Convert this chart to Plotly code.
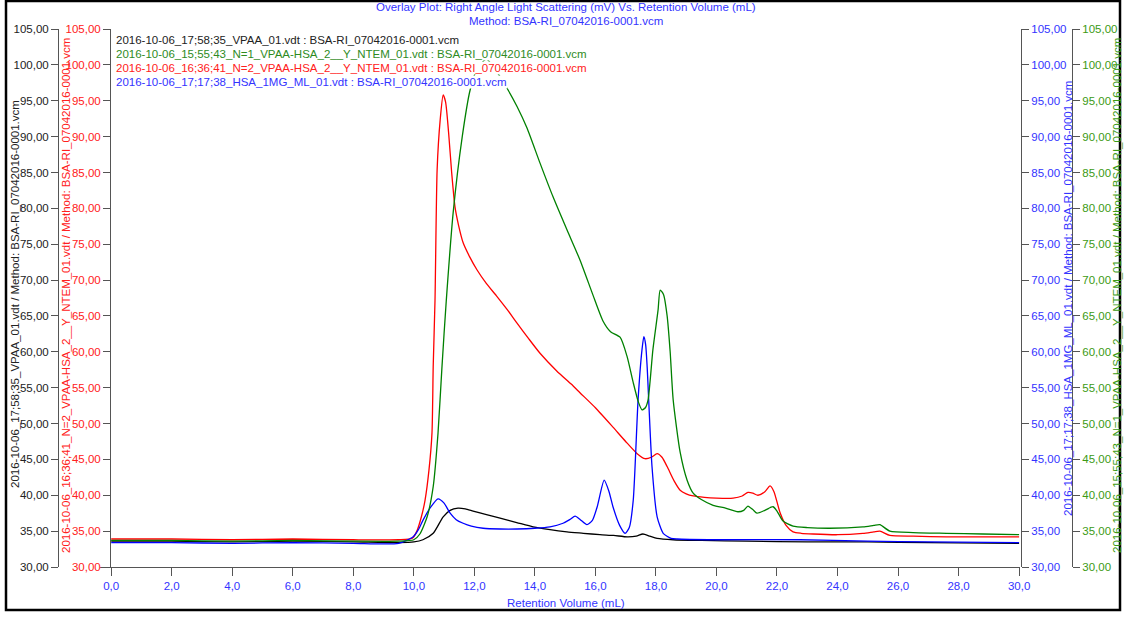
import plotly.graph_objects as go

W, H = 1125, 617

# ---- data: right angle light scattering (mV) vs retention volume (mL) ----
vpaa_x = [0, 2, 4, 6, 8, 9.5, 10.0, 10.3, 10.64, 10.97, 11.2, 11.46, 11.7, 11.96, 12.4, 12.85,
          13.4, 13.94, 14.5, 15.06, 15.6, 16.15, 16.6, 17.05, 17.35, 17.57, 17.8, 18.04, 18.57,
          19.5, 21, 23, 25, 27, 30]
vpaa_y = [33.6, 33.6, 33.5, 33.6, 33.5, 33.4, 33.5, 33.8, 34.7, 37.0, 37.9, 38.2, 38.1, 37.8,
          37.3, 36.8, 36.2, 35.6, 35.2, 34.9, 34.7, 34.5, 34.4, 34.2, 34.3, 34.6, 34.3, 34.0,
          33.8, 33.7, 33.6, 33.5, 33.5, 33.4, 33.3]

n2_x = [0, 2, 4, 6, 8, 9.5, 9.95, 10.1, 10.25, 10.37, 10.5, 10.6, 10.64, 10.7, 10.77, 10.87,
        10.97, 11.05, 11.15, 11.25, 11.36, 11.48, 11.63, 11.85, 12.09, 12.4, 12.75, 13.1, 13.41,
        13.8, 14.17, 14.73, 15.2, 15.49, 16.0, 16.58, 17.0, 17.38, 17.64, 17.85, 18.04, 18.2,
        18.37, 18.6, 18.8, 19.0, 19.23, 19.6, 20.0, 20.55, 20.85, 21.04, 21.2, 21.37, 21.6,
        21.77, 21.9, 22.1, 22.3, 22.53, 22.8, 23.19, 24.0, 24.84, 25.2, 25.4, 25.73, 26.5,
        27.6, 28.8, 30]
n2_y = [33.9, 33.9, 33.8, 33.9, 33.8, 33.8, 34.0, 35.0, 37.0, 39.3, 43.5, 48.7, 57.9, 67.2,
        85.4, 92.3, 95.8, 94.8, 90.5, 85.0, 80.2, 77.6, 75.2, 73.2, 71.4, 69.5, 67.7, 65.8, 64.0,
        61.8, 59.8, 57.3, 55.5, 54.3, 52.2, 49.5, 47.5, 45.8, 45.1, 45.3, 45.8, 45.3, 44.0, 42.0,
        40.7, 40.2, 39.9, 39.7, 39.6, 39.6, 39.9, 40.4, 40.3, 40.0, 40.5, 41.3, 40.5, 37.6, 35.8,
        34.9, 34.7, 34.6, 34.5, 34.7, 34.9, 35.0, 34.4, 34.3, 34.2, 34.2, 34.2]

n1_x = [0, 2, 4, 6, 8, 9.5, 10.0, 10.2, 10.44, 10.64, 10.8, 10.93, 11.07, 11.3, 11.6, 11.86,
        12.1, 12.4, 12.75, 13.1, 13.41, 13.74, 14.17, 14.6, 15.06, 15.49, 15.92, 16.25, 16.5,
        16.82, 17.05, 17.25, 17.42, 17.54, 17.65, 17.74, 17.9, 18.07, 18.14, 18.25, 18.37,
        18.47, 18.57, 18.8, 19.03, 19.23, 19.5, 19.89, 20.3, 20.71, 20.9, 21.04, 21.2, 21.34,
        21.6, 21.87, 22.0, 22.2, 22.53, 23.0, 23.75, 24.84, 25.2, 25.4, 25.73, 26.5, 27.6,
        28.8, 30]
n1_y = [33.7, 33.7, 33.6, 33.7, 33.6, 33.6, 33.8, 34.6, 37.0, 41.2, 48.7, 57.9, 67.0, 79.4,
        90.0, 96.5, 99.5, 100.8, 99.0, 96.6, 94.2, 91.2, 86.3, 81.6, 77.0, 72.8, 67.9, 64.3,
        62.8, 62.0, 59.3, 55.7, 53.0, 51.9, 52.2, 53.3, 60.3, 65.8, 68.6, 68.0, 65.0, 60.0,
        53.3, 46.0, 42.1, 40.3, 39.4, 38.6, 38.2, 37.7, 37.9, 38.5, 38.0, 37.5, 37.9, 38.4,
        37.8, 36.4, 35.7, 35.5, 35.4, 35.6, 35.8, 35.9, 35.0, 34.8, 34.7, 34.6, 34.5]

hsa_x = [0, 2, 4, 6, 8, 9.5, 9.98, 10.15, 10.3, 10.55, 10.8, 11.0, 11.2, 11.4, 11.63, 11.9,
         12.29, 12.85, 13.41, 14.0, 14.5, 14.93, 15.15, 15.33, 15.5, 15.72, 15.9, 16.06, 16.29,
         16.45, 16.58, 16.8, 16.98, 17.12, 17.25, 17.41, 17.54, 17.6, 17.66, 17.71, 17.87,
         18.04, 18.24, 18.5, 18.7, 20, 22.76, 25, 27, 30]
hsa_y = [33.4, 33.4, 33.3, 33.4, 33.3, 33.3, 34.2, 35.2, 36.5, 38.3, 39.5, 38.9, 37.5, 36.6,
         36.1, 35.7, 35.4, 35.3, 35.3, 35.4, 35.6, 36.1, 36.6, 37.1, 36.6, 35.9, 36.5, 38.4,
         42.1, 40.5, 38.4, 35.8, 34.7, 35.5, 39.3, 53.3, 60.3, 62.1, 61.0, 57.9, 44.0, 37.0,
         34.7, 34.0, 33.9, 33.8, 33.8, 33.6, 33.5, 33.4]

method = "BSA-RI_07042016-0001.vcm"
runs = [
    # (run file, x, y, line colour, text colour, axis)
    ("2016-10-06_17;58;35_VPAA_01.vdt", vpaa_x, vpaa_y, "#000000", "#222222", "y"),
    ("2016-10-06_15;55;43_N=1_VPAA-HSA_2__Y_NTEM_01.vdt", n1_x, n1_y, "#008000", "#3c9a14", "y4"),
    ("2016-10-06_16;36;41_N=2_VPAA-HSA_2__Y_NTEM_01.vdt", n2_x, n2_y, "#ff0000", "#ff2020", "y2"),
    ("2016-10-06_17;17;38_HSA_1MG_ML_01.vdt", hsa_x, hsa_y, "#0000ff", "#3333ff", "y3"),
]

FONT = "Liberation Sans, Arial, sans-serif"
FS = 11.5
BLUE_TXT = "#3333ff"


def px(x):
    return x / W


def py(y):
    return 1 - y / H


fig = go.Figure()
for name, xs, ys, col, _, ax in runs:
    fig.add_trace(go.Scatter(x=xs, y=ys, mode="lines", name=name, yaxis=ax,
                             line=dict(color=col, width=1.3, shape="spline", smoothing=0.6),
                             hoverinfo="x+y"))

ydom = [py(567), py(29)]
common_y = dict(range=[30, 105], dtick=5, tickformat=".2f", showline=True, linecolor="#555555",
                linewidth=1, ticks="outside", ticklen=7, tickcolor="#555555", showgrid=False,
                zeroline=False, automargin=False, domain=ydom, anchor="free")

fig.update_layout(
    width=W, height=H, margin=dict(l=0, r=0, t=0, b=0),
    paper_bgcolor="white", plot_bgcolor="white", showlegend=False,
    separators=", ",
    font=dict(family=FONT, size=FS),
    xaxis=dict(domain=[px(100), px(1020)], range=[-0.37, 30.03], dtick=2, tickformat=".1f",
               showline=True, linecolor="#555555", ticks="outside", ticklen=8,
               tickcolor="#555555", showgrid=False, zeroline=False, automargin=False,
               tickfont=dict(color=BLUE_TXT, size=FS), anchor="y"),
    yaxis=dict(**common_y, position=px(58), side="left",
               tickfont=dict(color="#222222", size=FS)),
    yaxis2=dict(**common_y, position=px(110), side="left", overlaying="y",
                tickfont=dict(color="#ff2020", size=FS)),
    yaxis3=dict(**common_y, position=px(1021), side="right", overlaying="y",
                tickfont=dict(color=BLUE_TXT, size=FS)),
    yaxis4=dict(**common_y, position=px(1072), side="right", overlaying="y",
                tickfont=dict(color="#3c9a14", size=FS)),
)

ann = []
# header
ann.append(dict(text="Overlay Plot: Right Angle Light Scattering (mV) Vs. Retention Volume (mL)",
                x=px(566), y=py(7), font=dict(color=BLUE_TXT, size=FS)))
ann.append(dict(text="Method: " + method, x=px(566), y=py(21),
                font=dict(color=BLUE_TXT, size=FS)))
# run list in the upper left corner
for i, (name, _, _, _, tcol, _) in enumerate(runs):
    lcol = {"#3c9a14": "#2e8b1e"}.get(tcol, tcol)
    ann.append(dict(text=f"{name} : {method}", x=px(115), y=py(40 + 14 * i), xanchor="left",
                    bgcolor="white", borderpad=0, font=dict(color=lcol, size=FS)))
# rotated axis titles
axis_titles = [(runs[0], 15, 294), (runs[2], 66, 296), (runs[3], 1068, 299), (runs[1], 1117, 296)]
for (name, _, _, _, tcol, _), xp, yp in axis_titles:
    ann.append(dict(text=f"{name} / Method: {method}", x=px(xp), y=py(yp), textangle=-90,
                    font=dict(color=tcol, size=FS)))
# x axis title
ann.append(dict(text="Retention Volume (mL)", x=px(566), y=py(603),
                font=dict(color=BLUE_TXT, size=FS)))

for a in ann:
    a.setdefault("xanchor", "center")
    a.update(xref="paper", yref="paper", yanchor="middle", showarrow=False)
fig.update_layout(annotations=ann)

# outer frame
fig.add_shape(type="rect", xref="paper", yref="paper", x0=px(6), x1=px(1120), y0=py(610),
              y1=py(1), line=dict(color="black", width=2.5), fillcolor="rgba(0,0,0,0)")

fig.write_html("out.html")
